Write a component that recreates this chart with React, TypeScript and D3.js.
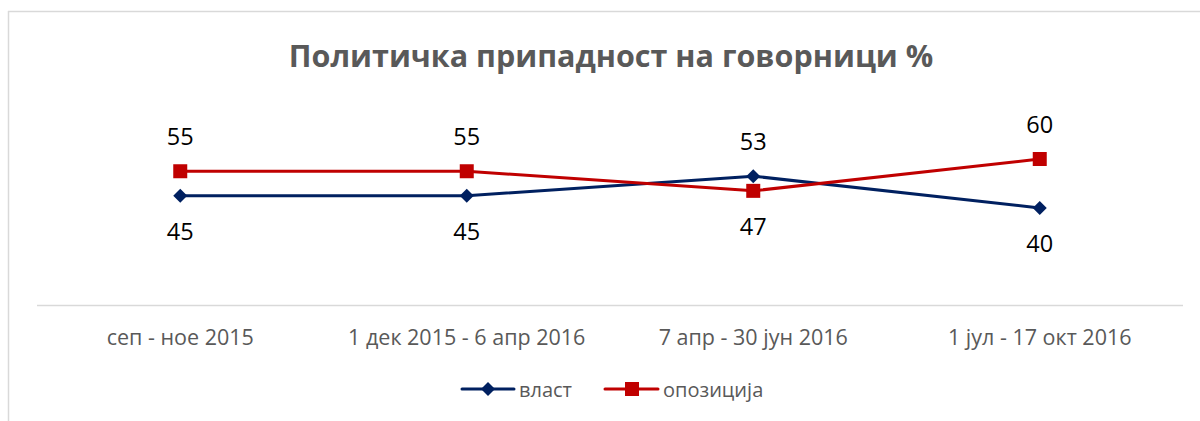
import React from "react";
import * as d3 from "d3";

const categories = ["сеп - ное 2015", "1 дек 2015 - 6 апр 2016", "7 апр - 30 јун 2016", "1 јул - 17 окт 2016"];
const vlast = [45, 45, 53, 40];
const opozicija = [55, 55, 47, 60];
const seriesNames = ["власт", "опозиција"];
const title = "Политичка припадност на говорници %";

const W = 1200, H = 421;
const navy = "#002060";
const red = "#C00000";
const font = "'Open Sans', 'Liberation Sans', sans-serif";

export default function App() {
  const x = d3.scaleBand<string>().domain(categories).range([37, 1183]);
  const y = d3.scaleLinear().domain([0, 100]).range([306, 61]);
  const cx = (c: string) => (x(c) as number) + x.bandwidth() / 2;
  const line = d3.line<number>().x((_, i) => cx(categories[i])).y((v) => y(v));

  const series = [
    { name: seriesNames[0], data: vlast, color: navy, marker: "diamond" },
    { name: seriesNames[1], data: opozicija, color: red, marker: "square" },
  ];

  const marker = (kind: string, px: number, py: number, color: string, key: string) =>
    kind === "diamond" ? (
      <path key={key} d={`M${px},${py - 7}L${px + 7},${py}L${px},${py + 7}L${px - 7},${py}Z`} fill={color} />
    ) : (
      <rect key={key} x={px - 7} y={py - 7} width={14} height={14} fill={color} />
    );

  return (
    <svg width={W} height={H} style={{ position: "absolute", left: 0, top: 0, fontFamily: font }}>
      <rect x={0} y={0} width={W} height={H} fill="#fff" />
      <line x1={8.5} y1={11} x2={8.5} y2={H} stroke="#d9d9d9" strokeWidth={1.5} />
      <line x1={8} y1={11.5} x2={W} y2={11.5} stroke="#d9d9d9" strokeWidth={1.5} />
      <text x={611} y={67} textAnchor="middle" fontSize={30.5} fontWeight="bold" fill="#595959">
        {title}
      </text>
      <line x1={37} x2={1183} y1={305.5} y2={305.5} stroke="#d9d9d9" strokeWidth={1.5} />
      {categories.map((c) => (
        <text key={c} x={cx(c)} y={345} textAnchor="middle" fontSize={21.5} fill="#595959">
          {c}
        </text>
      ))}
      {series.map((s, si) => (
        <g key={s.name}>
          <path d={line(s.data) || ""} fill="none" stroke={s.color} strokeWidth={3} />
          {s.data.map((v, i) => marker(s.marker, cx(categories[i]), y(v), s.color, `${si}-${i}`))}
          {s.data.map((v, i) => {
            const other = series[1 - si].data[i];
            const above = v > other;
            return (
              <text
                key={`l${si}-${i}`}
                x={cx(categories[i])}
                y={above ? y(v) - 26 : y(v) + 44}
                textAnchor="middle"
                fontSize={23.5}
                fill="#000"
              >
                {v}
              </text>
            );
          })}
        </g>
      ))}
      <g>
        <line x1={462} x2={514} y1={389} y2={389} stroke={navy} strokeWidth={3} strokeLinecap="round" />
        {marker("diamond", 488, 389, navy, "lg0")}
        <text x={519} y={397} fontSize={20} fill="#595959">{seriesNames[0]}</text>
        <line x1={605} x2={658} y1={389} y2={389} stroke={red} strokeWidth={3} strokeLinecap="round" />
        {marker("square", 632, 389, red, "lg1")}
        <text x={663} y={397} fontSize={20} fill="#595959">{seriesNames[1]}</text>
      </g>
    </svg>
  );
}
